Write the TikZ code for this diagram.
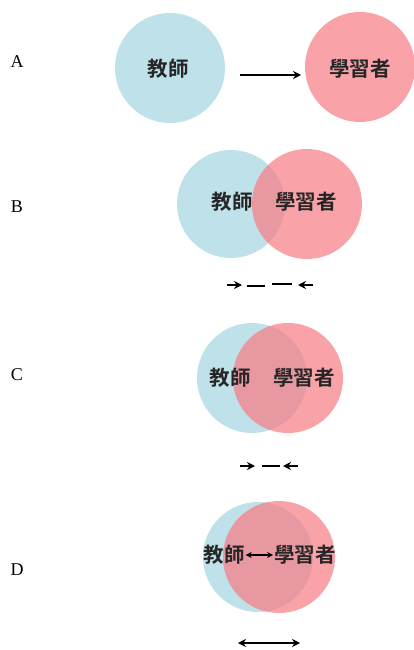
\documentclass[tikz,border=0pt]{standalone}
\usepackage{fontspec}
\setmainfont{Liberation Serif}
\newfontfamily\cjk{Noto Sans CJK TC}[BoldFont={Noto Sans CJK TC Bold}]
\usetikzlibrary{arrows.meta}
\definecolor{tblue}{RGB}{191,225,233}
\definecolor{lred}{RGB}{249,163,168}
\definecolor{ovl}{RGB}{232,152,160}
\begin{document}
\begin{tikzpicture}[x=1pt,y=-1pt,
  lbl/.style={font=\fontsize{18}{18}\selectfont, anchor=center},
  word/.style={font=\cjk\bfseries\fontsize{20.5}{20.5}\selectfont, text=black!85, inner sep=0pt},
  arr/.style={line width=1.6pt, -{Stealth[length=8pt,width=8pt]}},
  dsh/.style={line width=1.6pt},
  darr/.style={line width=1.6pt, {Stealth[length=8pt,width=8pt]}-{Stealth[length=8pt,width=8pt]}}]
\useasboundingbox (0,0) rectangle (414,650);
\fill[white] (0,0) rectangle (414,650);
% labels
\node[lbl] (la) at (17,62) {A};
\node[lbl] (lb) at (17,207) {B};
\node[lbl] (lc) at (17,375) {C};
\node[lbl] (ld) at (17,570) {D};
% Row A
\fill[tblue] (170,68) circle (55);
\fill[lred] (360,67) circle (55);
\node[word] (ta) at (168,69) {教師};
\node[word] (sa) at (360,69) {學習者};
\coordinate (a1) at (240,75);
\coordinate (a2) at (301,75);
\draw[arr] (a1) -- (a2);
% Row B
\fill[tblue] (231,204) circle (54);
\fill[lred] (307,204) circle (55);
\begin{scope}
\clip (231,204) circle (54);
\fill[ovl] (307,204) circle (55);
\end{scope}
\node[word] (tb) at (232,202) {教師};
\node[word] (sb) at (306,202) {學習者};
\coordinate (b1) at (227,285); \coordinate (b2) at (242,285);
\coordinate (b3) at (247,286); \coordinate (b4) at (265,286);
\coordinate (b5) at (272,284); \coordinate (b6) at (292,284);
\coordinate (b7) at (313,285); \coordinate (b8) at (298,285);
\draw[arr] (b1) -- (b2);
\draw[dsh] (b3) -- (b4);
\draw[dsh] (b5) -- (b6);
\draw[arr] (b7) -- (b8);
% Row C
\fill[tblue] (252,378) circle (55);
\fill[lred] (288,378) circle (55);
\begin{scope}
\clip (252,378) circle (55);
\fill[ovl] (288,378) circle (55);
\end{scope}
\node[word] (tc) at (230,378) {教師};
\node[word] (sc) at (304,378) {學習者};
\coordinate (c1) at (240,466); \coordinate (c2) at (255,466);
\coordinate (c3) at (262,466); \coordinate (c4) at (280,466);
\coordinate (c5) at (298,466); \coordinate (c6) at (283,466);
\draw[arr] (c1) -- (c2);
\draw[dsh] (c3) -- (c4);
\draw[arr] (c5) -- (c6);
% Row D
\fill[tblue] (258,557) circle (55);
\fill[lred] (279,557) circle (56);
\begin{scope}
\clip (258,557) circle (55);
\fill[ovl] (279,557) circle (56);
\end{scope}
\node[word] (td) at (224,555) {教師};
\node[word] (sd) at (305,555) {學習者};
\draw[line width=1.4pt, {Stealth[length=6pt,width=6pt]}-{Stealth[length=6pt,width=6pt]}] ([xshift=1pt]td.east) -- ([xshift=-1pt]sd.west);
\coordinate (d1) at (238,643); \coordinate (d2) at (300,643);
\draw[darr] (d1) -- (d2);
\end{tikzpicture}
\end{document}
